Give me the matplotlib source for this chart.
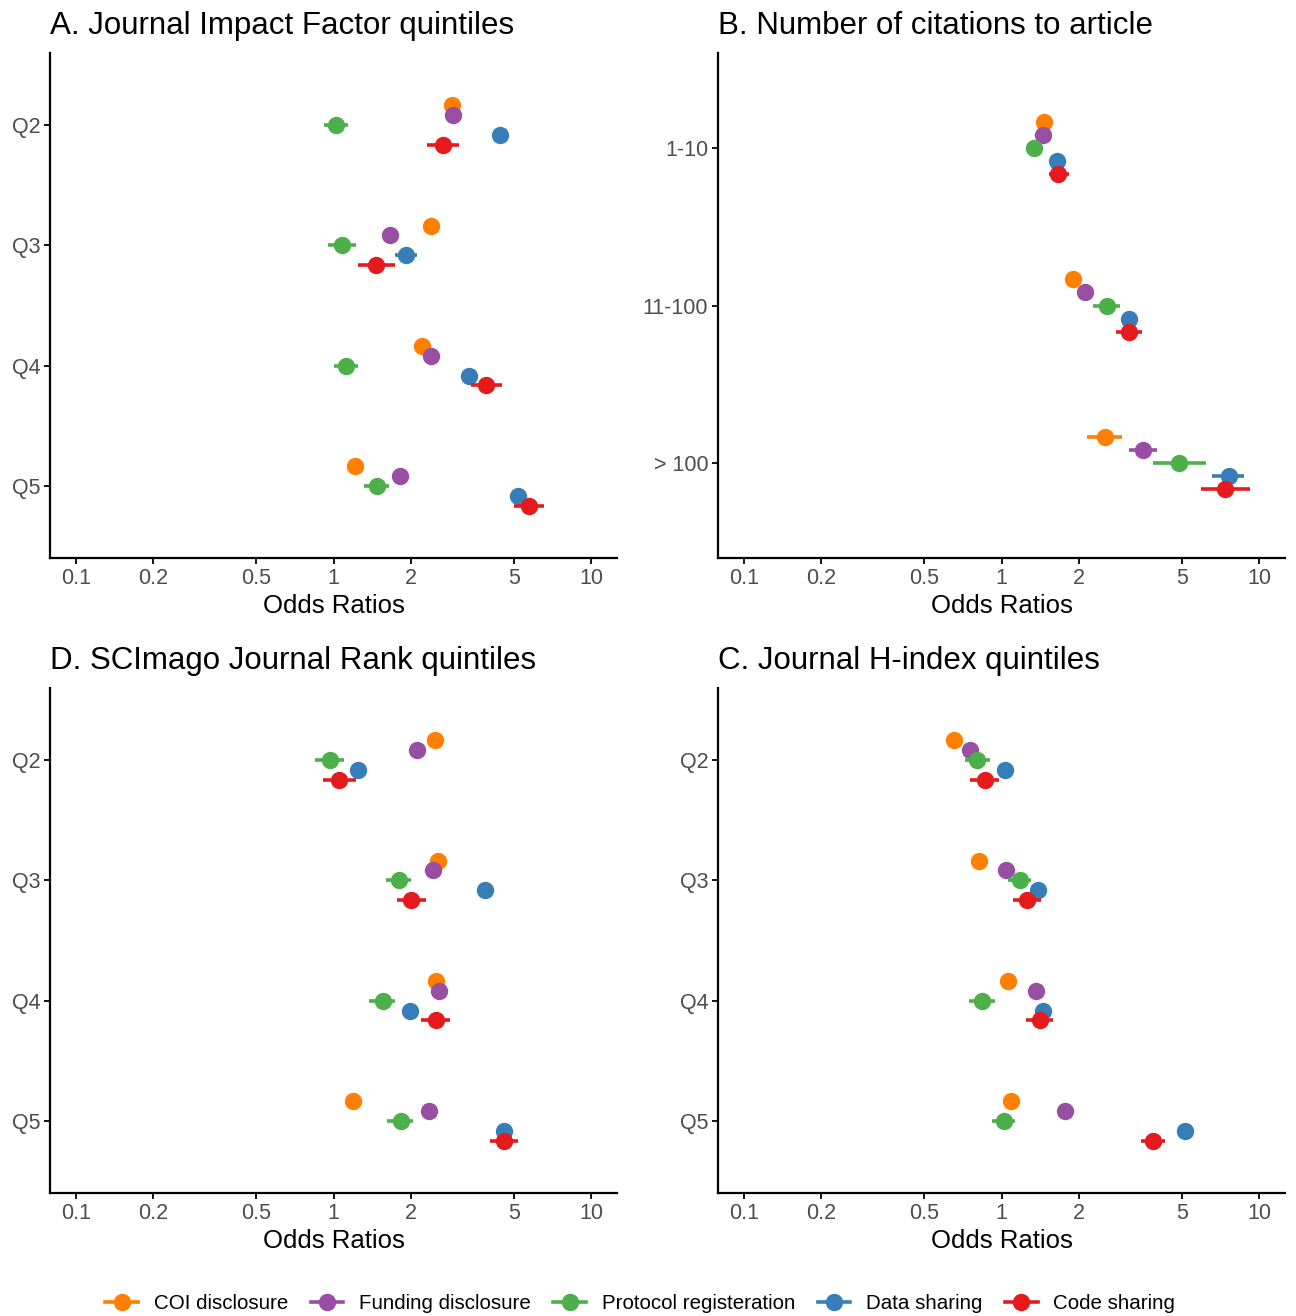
import numpy as np
import matplotlib
matplotlib.use("Agg")
import matplotlib.pyplot as plt
from matplotlib.lines import Line2D

plt.rcParams['font.family'] = ['Liberation Sans', 'DejaVu Sans']

series = ["COI disclosure", "Funding disclosure", "Protocol registeration",
          "Data sharing", "Code sharing"]
colors = ["#FF7F00", "#984EA3", "#4DAF4A", "#377EB8", "#E41A1C"]

quintiles = ["Q2", "Q3", "Q4", "Q5"]
cit_groups = ["1-10", "11-100", "> 100"]

# rows: series (COI, Funding, Protocol, Data, Code); columns: categories
jif_or = [[2.88, 2.39, 2.21, 1.21], [2.92, 1.65, 2.39, 1.81], [1.02, 1.08, 1.12, 1.47],
          [4.44, 1.91, 3.35, 5.19], [2.65, 1.46, 3.91, 5.73]]
jif_lo = [[2.76, 2.29, 2.12, 1.16], [2.80, 1.58, 2.29, 1.74], [0.92, 0.95, 1.00, 1.31],
          [4.25, 1.74, 3.20, 4.95], [2.30, 1.24, 3.41, 5.00]]
jif_hi = [[3.00, 2.49, 2.30, 1.26], [3.04, 1.72, 2.49, 1.88], [1.14, 1.22, 1.25, 1.64],
          [4.64, 2.10, 3.50, 5.45], [3.07, 1.74, 4.52, 6.58]]

cit_or = [[1.46, 1.90, 2.51], [1.45, 2.11, 3.55], [1.34, 2.57, 4.88],
          [1.64, 3.12, 7.60], [1.66, 3.13, 7.38]]
cit_lo = [[1.40, 1.82, 2.14], [1.39, 2.02, 3.13], [1.28, 2.27, 3.86],
          [1.57, 2.99, 6.57], [1.53, 2.79, 5.96]]
cit_hi = [[1.52, 1.98, 2.94], [1.51, 2.20, 4.00], [1.40, 2.89, 6.22],
          [1.71, 3.26, 8.71], [1.82, 3.52, 9.17]]

sjr_or = [[2.48, 2.55, 2.50, 1.19], [2.10, 2.44, 2.57, 2.35], [0.965, 1.79, 1.55, 1.82],
          [1.24, 3.86, 1.98, 4.60], [1.05, 2.00, 2.50, 4.60]]
sjr_lo = [[2.38, 2.45, 2.40, 1.14], [2.01, 2.34, 2.47, 2.25], [0.85, 1.60, 1.37, 1.62],
          [1.19, 3.70, 1.90, 4.41], [0.91, 1.76, 2.19, 4.06]]
sjr_hi = [[2.58, 2.65, 2.60, 1.24], [2.19, 2.54, 2.67, 2.45], [1.10, 2.00, 1.74, 2.04],
          [1.29, 4.02, 2.06, 4.80], [1.22, 2.29, 2.84, 5.19]]

hidx_or = [[0.654, 0.816, 1.06, 1.09], [0.756, 1.04, 1.36, 1.77], [0.807, 1.18, 0.84, 1.02],
           [1.03, 1.38, 1.45, 5.17], [0.865, 1.26, 1.41, 3.87]]
hidx_lo = [[0.63, 0.78, 1.02, 1.05], [0.73, 1.00, 1.31, 1.70], [0.72, 1.06, 0.75, 0.92],
           [0.99, 1.33, 1.39, 4.96], [0.756, 1.11, 1.24, 3.47]]
hidx_hi = [[0.68, 0.85, 1.10, 1.13], [0.79, 1.08, 1.41, 1.84], [0.90, 1.30, 0.94, 1.13],
           [1.07, 1.43, 1.51, 5.38], [0.98, 1.42, 1.58, 4.31]]

xticks = [0.1, 0.2, 0.5, 1, 2, 5, 10]
xticklabels = ["0.1", "0.2", "0.5", "1", "2", "5", "10"]

fig = plt.figure(figsize=(12.96, 13.16), dpi=100)
W, H = 1296, 1316


def panel(px_left, px_top, px_right, px_bottom):
    return fig.add_axes([px_left / W, 1 - px_bottom / H,
                         (px_right - px_left) / W, (px_bottom - px_top) / H])


def draw(ax, title, cats, est, lo, hi):
    n = len(cats)
    step = 0.0825
    for i in range(len(series)):
        y = np.arange(n) + (i - 2) * step
        ax.hlines(y, lo[i], hi[i], color=colors[i], lw=2.6, zorder=2 + i)
        ax.plot(est[i], y, 'o', color=colors[i], ms=12.5, mew=0, zorder=2 + i)
    ax.set_xscale('log')
    ax.set_xlim(10 ** -1.1, 10 ** 1.1)
    ax.set_ylim(n - 1 + 0.6, -0.6)
    ax.set_xticks(xticks)
    ax.set_xticklabels(xticklabels)
    ax.xaxis.set_minor_locator(matplotlib.ticker.NullLocator())
    ax.set_yticks(range(n))
    ax.set_yticklabels(cats)
    ax.tick_params(axis='both', length=4, width=1.3, color='black',
                   labelsize=15.5, labelcolor='#4D4D4D', pad=3)
    for s in ['top', 'right']:
        ax.spines[s].set_visible(False)
    for s in ['left', 'bottom']:
        ax.spines[s].set_linewidth(1.6)
    ax.set_xlabel("Odds Ratios", fontsize=18.5, labelpad=4)
    ax.set_title(title, loc='left', fontsize=22.5, pad=14)


ax1 = panel(50, 53, 617, 558)
draw(ax1, "A. Journal Impact Factor quintiles", quintiles, jif_or, jif_lo, jif_hi)
ax2 = panel(718, 53, 1285, 558)
draw(ax2, "B. Number of citations to article", cit_groups, cit_or, cit_lo, cit_hi)
ax3 = panel(50, 688, 617, 1193)
draw(ax3, "D. SCImago Journal Rank quintiles", quintiles, sjr_or, sjr_lo, sjr_hi)
ax4 = panel(718, 688, 1285, 1193)
draw(ax4, "C. Journal H-index quintiles", quintiles, hidx_or, hidx_lo, hidx_hi)

handles = [Line2D([], [], color=c, lw=2.6, marker='o', ms=12.5, mew=0) for c in colors]
fig.legend(handles, series, loc='lower center', bbox_to_anchor=(0.494, -0.012),
           ncol=5, frameon=False, fontsize=14.8, handlelength=1.6,
           handletextpad=0.75, columnspacing=1.1)

fig.savefig("out.png", dpi=100)
